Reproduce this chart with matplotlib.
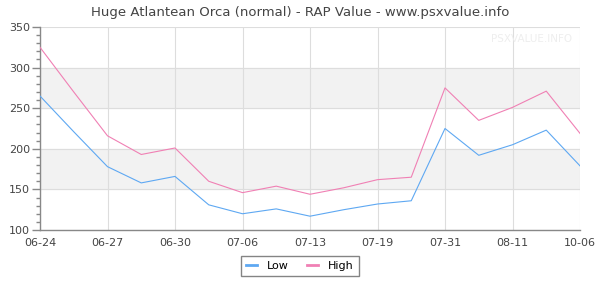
import matplotlib
matplotlib.use("Agg")
import matplotlib.pyplot as plt
from matplotlib.ticker import MultipleLocator

# - Data - #
dates = ["06-24", "06-26", "06-27", "06-29", "06-30", "07-03", "07-06", "07-09", "07-13",
         "07-16", "07-19", "07-25", "07-31", "08-05", "08-11", "09-01", "10-06"]
low = [265, 221, 178, 158, 166, 131, 120, 126, 117, 125, 132, 136, 225, 192, 205, 223, 179]
high = [325, 270, 216, 193, 201, 160, 146, 154, 144, 152, 162, 165, 275, 235, 251, 271, 219]
tick_idx = [0, 2, 4, 6, 8, 10, 12, 14, 16]

x = list(range(len(dates)))

fig = plt.figure(figsize=(6, 3), dpi=100)
ax = fig.add_axes([40 / 600, 70 / 300, 540 / 600, 203 / 300])

# - bands and grid - #
for lo, hi in [(150, 200), (250, 300)]:
    ax.axhspan(lo, hi, color="#f2f2f2", zorder=0)
for yv in range(100, 351, 50):
    ax.axhline(yv, color="#dddddd", lw=0.8, zorder=1)
for i in tick_idx:
    ax.axvline(i, color="#dddddd", lw=0.8, zorder=1)

ax.plot(x, low, color="#5ea8f2", lw=0.8, label="Low", zorder=3)
ax.plot(x, high, color="#f080b4", lw=0.8, label="High", zorder=3)

ax.set_xlim(0, len(dates) - 1)
ax.set_ylim(100, 350)
ax.set_xticks(tick_idx)
ax.set_xticklabels([dates[i] for i in tick_idx])
ax.yaxis.set_major_locator(MultipleLocator(50))
ax.yaxis.set_minor_locator(MultipleLocator(10))

for s in ["top", "right"]:
    ax.spines[s].set_visible(False)
for s in ["left", "bottom"]:
    ax.spines[s].set_color("#888888")
    ax.spines[s].set_linewidth(1.0)

ax.tick_params(axis="x", length=0, pad=6, labelsize=8, labelcolor="#444444")
ax.tick_params(axis="y", which="major", length=6, width=1, color="#888888", labelsize=8,
               labelcolor="#444444", pad=1)
ax.tick_params(axis="y", which="minor", length=3, width=1, color="#888888")

ax.text(0.985, 0.94, "PSXVALUE.INFO", transform=ax.transAxes, ha="right", va="center",
        fontsize=7.5, color="#eeeeee")

fig.suptitle("Huge Atlantean Orca (normal) - RAP Value - www.psxvalue.info",
             x=0.5, y=0.98, fontsize=9.5, color="#444444")

leg = fig.legend(loc="center", bbox_to_anchor=(0.5, 0.113), ncol=2, fontsize=8,
                 frameon=True, fancybox=False, handlelength=1.0, columnspacing=1.6,
                 borderpad=0.45, handletextpad=0.9)
leg.get_frame().set_edgecolor("#666666")
leg.get_frame().set_linewidth(1.0)
for line in leg.get_lines():
    line.set_linewidth(2)

fig.savefig("out.png", dpi=100)
